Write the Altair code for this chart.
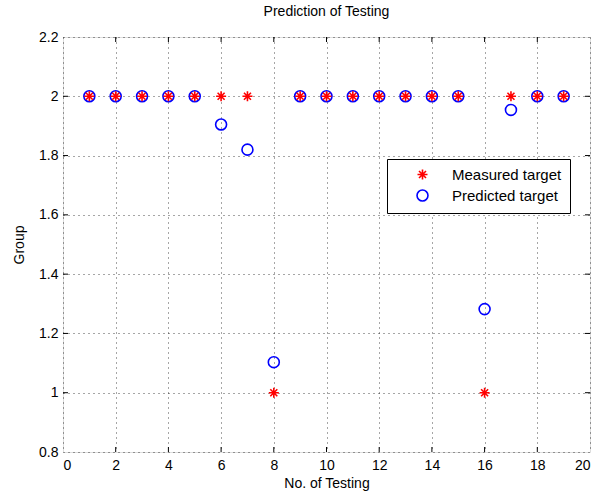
import altair as alt
import pandas as pd

test_no = list(range(1, 20))
measured = [2, 2, 2, 2, 2, 2, 2, 1, 2, 2, 2, 2, 2, 2, 2, 1, 2, 2, 2]
predicted = [2, 2, 2, 2, 2, 1.905, 1.82, 1.103, 2, 2, 2, 2, 2, 2, 2, 1.282, 1.954, 2, 2]
x_ticks = [0, 2, 4, 6, 8, 10, 12, 14, 16, 18, 20]
y_ticks = [0.8, 1.0, 1.2, 1.4, 1.6, 1.8, 2.0, 2.2]

W, H = 527, 415
FONT = "Liberation Sans"

rows = []
for i, m, p in zip(test_no, measured, predicted):
    rows.append({"n": i, "v": p, "s": "Predicted target"})
for i, m, p in zip(test_no, measured, predicted):
    rows.append({"n": i, "v": m, "s": "Measured target"})
df = pd.DataFrame(rows)

STAR = "M-1,0L1,0M0,-1L0,1M-0.7,-0.7L0.7,0.7M-0.7,0.7L0.7,-0.7"

xs = alt.Scale(domain=[0, 20], nice=False, zero=False)
ys = alt.Scale(domain=[0.8, 2.2], nice=False, zero=False)

xaxis = alt.Axis(values=x_ticks, title="No. of Testing", grid=True, gridDash=[1, 4],
                 gridColor="#000", gridOpacity=0.7, tickSize=0, domain=False,
                 labelFontSize=14, titleFontSize=14, labelPadding=6, titlePadding=4,
                 labelFont=FONT, titleFont=FONT, titleFontWeight="normal",
                 labelColor="#000", titleColor="#000")
yaxis = alt.Axis(values=y_ticks, title="Group", grid=True, gridDash=[1, 4],
                 gridColor="#000", gridOpacity=0.7, tickSize=0, domain=False,
                 labelFontSize=14, titleFontSize=14, labelPadding=5, titlePadding=12,
                 labelFont=FONT, titleFont=FONT, titleFontWeight="normal",
                 labelColor="#000", titleColor="#000", format="~g")

pts = alt.Chart(df).mark_point(filled=False, strokeWidth=1.6, opacity=1).encode(
    x=alt.X("n:Q", scale=xs, axis=xaxis),
    y=alt.Y("v:Q", scale=ys, axis=yaxis),
    color=alt.Color("s:N", scale=alt.Scale(domain=["Measured target", "Predicted target"],
                                            range=["#ff0000", "#0000ff"]),
                    legend=alt.Legend(title=None, orient="none", legendX=324, legendY=122,
                                      fillColor="white", strokeColor="#000", padding=8,
                                      labelFontSize=15, labelFont=FONT, labelColor="#000",
                                      symbolOffset=20, labelOffset=22, rowPadding=3,
                                      symbolStrokeWidth=1.6, symbolSize=100,
                                      symbolFillColor="transparent")),
    shape=alt.Shape("s:N", scale=alt.Scale(domain=["Measured target", "Predicted target"],
                                            range=[STAR, "circle"]), legend=None),
    size=alt.Size("s:N", scale=alt.Scale(domain=["Measured target", "Predicted target"],
                                          range=[100, 120]), legend=None),
    order=alt.Order("s:N", sort="descending"),
)

tick_df = pd.DataFrame({"t": x_ticks[1:-1]})
ytick_df = pd.DataFrame({"t": y_ticks[1:-1]})
tb = alt.Chart(tick_df).mark_rule(color="#000").encode(
    x=alt.X("t:Q", scale=xs), y=alt.value(H), y2=alt.value(H - 5))
tt = alt.Chart(tick_df).mark_rule(color="#000").encode(
    x=alt.X("t:Q", scale=xs), y=alt.value(0), y2=alt.value(5))
tl = alt.Chart(ytick_df).mark_rule(color="#000").encode(
    y=alt.Y("t:Q", scale=ys), x=alt.value(0), x2=alt.value(5))
tr = alt.Chart(ytick_df).mark_rule(color="#000").encode(
    y=alt.Y("t:Q", scale=ys), x=alt.value(W), x2=alt.value(W - 5))

chart = alt.layer(pts, tb, tt, tl, tr).properties(
    width=W, height=H,
    title=alt.TitleParams("Prediction of Testing", fontSize=14, font=FONT,
                          fontWeight="normal", color="#000", offset=11),
    autosize=alt.AutoSizeParams(type="none"),
    padding={"left": 63, "top": 37, "right": 8, "bottom": 45},
).configure_view(stroke="#000", strokeWidth=1).configure(background="white")

chart.save("out.html", embed_options={"renderer": "svg", "actions": False})
